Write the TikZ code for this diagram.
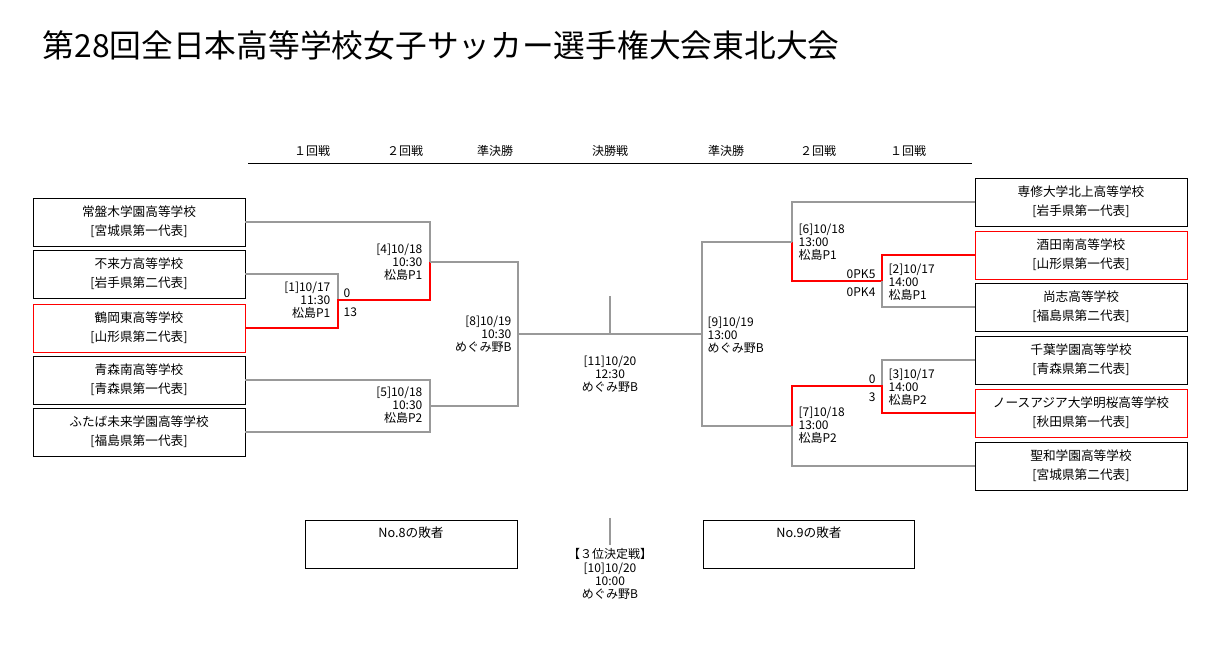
\documentclass[tikz,border=0pt]{standalone}
\usepackage{fontspec}
\setmainfont{Noto Sans CJK JP}
\usetikzlibrary{positioning}
\tikzset{
  team/.style={draw, minimum width=159pt, minimum height=36pt, align=center, inner sep=0pt, font=\fontsize{9.5}{14}\selectfont},
  wline/.style={draw=gray!80, line width=1.2pt},
  win/.style={draw=red, line width=1.2pt},
  info/.style={font=\fontsize{9}{10}\selectfont, inner sep=1pt}
}
\begin{document}
\begin{tikzpicture}[x=0.75pt, y=-0.75pt]
\useasboundingbox (0,0) rectangle (1228,655);
\node[anchor=west, font=\fontsize{23.8}{26}\selectfont] (title) at (38,45) {第28回全日本高等学校女子サッカー選手権大会東北大会};
% header
\draw (248,163) -- (972,163);
\foreach \x/\t in {312/１回戦, 405/２回戦, 495/準決勝, 610/決勝戦, 726/準決勝, 818/２回戦, 908/１回戦}
  \node[info] at (\x,151) {\t};
% left teams
\node[team] (l1) at (139,222) {常盤木学園高等学校\\{[}宮城県第一代表{]}};
\node[team] (l2) at (139,274) {不来方高等学校\\{[}岩手県第二代表{]}};
\node[team, draw=red] (l3) at (139,328) {鶴岡東高等学校\\{[}山形県第二代表{]}};
\node[team] (l4) at (139,380) {青森南高等学校\\{[}青森県第一代表{]}};
\node[team] (l5) at (139,432) {ふたば未来学園高等学校\\{[}福島県第一代表{]}};
% right teams
\node[team] (r1) at (1081,202) {専修大学北上高等学校\\{[}岩手県第一代表{]}};
\node[team, draw=red] (r2) at (1081,255) {酒田南高等学校\\{[}山形県第一代表{]}};
\node[team] (r3) at (1081,307) {尚志高等学校\\{[}福島県第二代表{]}};
\node[team] (r4) at (1081,360) {千葉学園高等学校\\{[}青森県第二代表{]}};
\node[team, draw=red] (r5) at (1081,413) {ノースアジア大学明桜高等学校\\{[}秋田県第一代表{]}};
\node[team] (r6) at (1081,466) {聖和学園高等学校\\{[}宮城県第二代表{]}};
% left bracket
\draw[wline] (l1.east) -- (430,222) -- (430,262);
\draw[wline] (l2.east) -- (338,274) -- (338,300);
\draw[win] (l3.east) -- (338,328) -- (338,300) -- (430,300) -- (430,262);
\draw[wline] (430,262) -- (518,262) -- (518,406) -- (430,406) -- (430,380) -- (l4.east);
\draw[wline] (l5.east) -- (430,432) -- (430,406);
\draw[wline] (518,334) -- (702,334);
\draw[wline] (610,334) -- (610,296);
% right bracket
\draw[wline] (r1.west) -- (792,202) -- (792,242);
\draw[win] (r2.west) -- (882,255) -- (882,281) -- (792,281) -- (792,242);
\draw[wline] (r3.west) -- (882,307) -- (882,281);
\draw[wline] (792,242) -- (702,242) -- (702,426) -- (792,426);
\draw[wline] (r4.west) -- (882,360) -- (882,386);
\draw[win] (r5.west) -- (882,413) -- (882,386) -- (792,386) -- (792,426);
\draw[wline] (r6.west) -- (792,466) -- (792,426);
% match info
\node[info, align=right, anchor=north east] (m1) at (332,280) {{[}1{]}10/17\\11:30\\松島P1};
\node[info, anchor=west] (s1a) at (342,293) {0};
\node[info, anchor=west] (s1b) at (342,312) {13};
\node[info, align=right, anchor=north east] (m4) at (424,242) {{[}4{]}10/18\\10:30\\松島P1};
\node[info, align=right, anchor=north east] (m5) at (424,385) {{[}5{]}10/18\\10:30\\松島P2};
\node[info, align=right, anchor=north east] (m8) at (513,314) {{[}8{]}10/19\\10:30\\めぐみ野B};
\node[info, align=center, anchor=north] (m11) at (610,354) {{[}11{]}10/20\\12:30\\めぐみ野B};
\node[info, align=left, anchor=north west] (m9) at (706,315) {{[}9{]}10/19\\13:00\\めぐみ野B};
\node[info, align=left, anchor=north west] (m6) at (797,222) {{[}6{]}10/18\\13:00\\松島P1};
\node[info, anchor=east] at (877,274) {0PK5};
\node[info, anchor=east] at (877,292) {0PK4};
\node[info, align=left, anchor=north west] (m2) at (887,262) {{[}2{]}10/17\\14:00\\松島P1};
\node[info, anchor=east] at (877,379) {0};
\node[info, anchor=east] at (877,397) {3};
\node[info, align=left, anchor=north west] (m3) at (887,367) {{[}3{]}10/17\\14:00\\松島P2};
\node[info, align=left, anchor=north west] (m7) at (797,405) {{[}7{]}10/18\\13:00\\松島P2};
% third place
\node[draw, minimum width=159pt, minimum height=36pt, inner sep=0pt] (b8) at (411,544) {};
\node[font=\fontsize{9.5}{11}\selectfont] at (411,533) {No.8の敗者};
\node[draw, minimum width=158pt, minimum height=36pt, inner sep=0pt] (b9) at (809,544) {};
\node[font=\fontsize{9.5}{11}\selectfont] at (809,533) {No.9の敗者};
\draw[wline] (610,518) -- (610,545);
\node[info, align=center, anchor=north] (m10) at (610,547) {【３位決定戦】\\{[}10{]}10/20\\10:00\\めぐみ野B};
\end{tikzpicture}
\end{document}
